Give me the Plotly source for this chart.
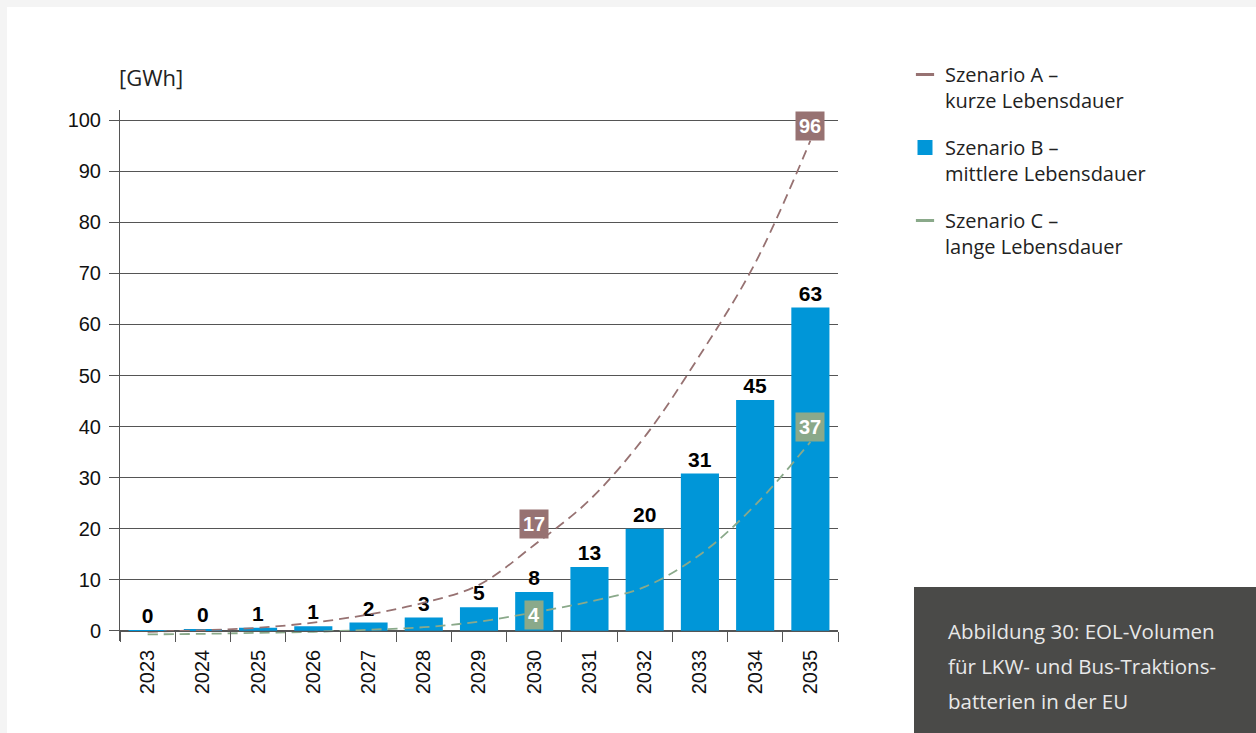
import plotly.graph_objects as go

years = [2023, 2024, 2025, 2026, 2027, 2028, 2029, 2030, 2031, 2032, 2033, 2034, 2035]
scen_b = [0.1, 0.2, 0.6, 0.9, 1.6, 2.6, 4.6, 7.6, 12.5, 20.0, 30.8, 45.2, 63.3]
scen_b_labels = ["0", "0", "1", "1", "2", "3", "5", "8", "13", "20", "31", "45", "63"]
scen_a = [-0.2, 0.1, 0.6, 1.6, 3.2, 5.5, 9.0, 16.8, 25.6, 38.0, 54.0, 72.0, 96.0]
scen_c = [-0.7, -0.6, -0.4, -0.2, 0.2, 0.7, 1.8, 3.6, 5.7, 8.6, 14.9, 24.6, 37.0]
a_labels = [(2030, "17"), (2035, "96")]
c_labels = [(2030, "4"), (2035, "37")]
y_ticks = [0, 10, 20, 30, 40, 50, 60, 70, 80, 90, 100]

names = ["Szenario A –<br>kurze Lebensdauer",
         "Szenario B –<br>mittlere Lebensdauer",
         "Szenario C –<br>lange Lebensdauer"]

BLUE = "#0096d8"
BROWN = "#977272"
GREEN = "#8aa98a"
GRID = "#555555"
FONT = "Liberation Sans"
FONT2 = "Open Sans"

W, H = 1256, 733
ML, MR, MT, MB = 120, 418, 110, 92
PW, PH = W - ML - MR, H - MT - MB


def px(x):
    return (x - ML) / PW


def py(y):
    return (H - MB - y) / PH


fig = go.Figure()

fig.add_trace(go.Bar(
    x=years, y=scen_b, text=scen_b_labels, textposition="outside",
    textfont=dict(family=FONT, size=21, color="#000000", weight="bold"),
    constraintext="none", cliponaxis=False,
    marker=dict(color=BLUE, line=dict(width=0)), width=0.69,
    showlegend=False, hoverinfo="skip"))

fig.add_trace(go.Scatter(
    x=years, y=scen_a, mode="lines", line=dict(color=BROWN, width=1.8, dash="10px,6px", shape="spline"),
    showlegend=False, hoverinfo="skip"))
fig.add_trace(go.Scatter(
    x=years, y=scen_c, mode="lines", line=dict(color=GREEN, width=1.8, dash="10px,6px", shape="spline"),
    showlegend=False, hoverinfo="skip"))

# legend entries
fig.add_trace(go.Scatter(x=[None], y=[None], mode="markers", name=names[0], legendgroup="a",
                         marker=dict(symbol="line-ew", size=13, line=dict(width=3, color=BROWN))))
fig.add_trace(go.Scatter(x=[None], y=[None], mode="markers", name=names[1], legendgroup="b",
                         marker=dict(symbol="square", size=15, color=BLUE)))
fig.add_trace(go.Scatter(x=[None], y=[None], mode="markers", name=names[2], legendgroup="c",
                         marker=dict(symbol="line-ew", size=13, line=dict(width=3, color=GREEN))))

annotations = []
for yr, txt in a_labels:
    annotations.append(dict(x=yr, y=scen_a[years.index(yr)], xref="x", yref="y", text=txt,
                            showarrow=False, yanchor="bottom", yshift=6 if yr == 2030 else 0,
                            bgcolor=BROWN, borderpad=3,
                            font=dict(family=FONT, size=20, color="white", weight="bold")))
for yr, txt in c_labels:
    annotations.append(dict(x=yr, y=scen_c[years.index(yr)], xref="x", yref="y", text=txt,
                            showarrow=False, yanchor="bottom" if yr == 2035 else "middle",
                            yshift=0 if yr == 2035 else -3,
                            bgcolor=GREEN, borderpad=3,
                            font=dict(family=FONT, size=20, color="white", weight="bold")))

annotations.append(dict(x=px(117), y=py(77), xref="paper", yref="paper", text="[GWh]",
                        showarrow=False, xanchor="left", yanchor="middle",
                        font=dict(family=FONT2, size=22, color="#222222")))

caption = ["Abbildung 30: EOL-Volumen", "für LKW- und Bus-Traktions-", "batterien in der EU"]
for i, line in enumerate(caption):
    annotations.append(dict(x=px(946), y=py(631 + 35 * i), xref="paper", yref="paper", text=line,
                            showarrow=False, xanchor="left", yanchor="middle",
                            font=dict(family=FONT2, size=20.5, color="#e8e8e8")))

shapes = [
    dict(type="rect", xref="paper", yref="paper", x0=px(7), x1=px(1256), y0=py(7), y1=py(740),
         fillcolor="white", line=dict(width=0), layer="below"),
    dict(type="rect", xref="paper", yref="paper", x0=px(914), x1=px(1256), y0=py(587), y1=py(740),
         fillcolor="#4a4a48", line=dict(width=0), layer="below"),
]

fig.update_layout(
    width=W, height=H,
    margin=dict(l=ML, r=MR, t=MT, b=MB, pad=0),
    paper_bgcolor="#f4f4f4", plot_bgcolor="white",
    font=dict(family=FONT, size=19, color="#111111"),
    annotations=annotations, shapes=shapes,
    legend=dict(x=px(905), y=py(55), xanchor="left", yanchor="top", valign="top",
                tracegroupgap=18, itemsizing="trace", bgcolor="rgba(0,0,0,0)",
                font=dict(family=FONT2, size=20, color="#222222")),
    xaxis=dict(range=[2022.5, 2035.5], tickvals=years, ticktext=[str(y) for y in years],
               ticks="outside", ticklen=10, tickcolor="rgba(0,0,0,0)",
               minor=dict(ticks="outside", ticklen=10, tickcolor=GRID, tickwidth=1,
                          tick0=2022.5, dtick=1, showgrid=False),
               showline=True, linecolor=GRID, linewidth=1, showgrid=False, zeroline=False,
               anchor="free", position=2 / 104, tickangle=-90,
               tickfont=dict(family=FONT, size=20, color="#111111"), fixedrange=True),
    yaxis=dict(range=[-2, 102], tickvals=y_ticks, showgrid=True,
               gridcolor=GRID, gridwidth=1, zeroline=False,
               showline=True, linecolor=GRID, linewidth=1,
               ticks="outside", ticklen=10, tickcolor=GRID, ticklabelstandoff=4,
               tickfont=dict(family=FONT, size=20, color="#111111"), fixedrange=True),
)

fig.write_html("out.html", config={"displayModeBar": False},
               post_script="document.body.style.margin='0px';document.body.style.overflow='hidden';")
